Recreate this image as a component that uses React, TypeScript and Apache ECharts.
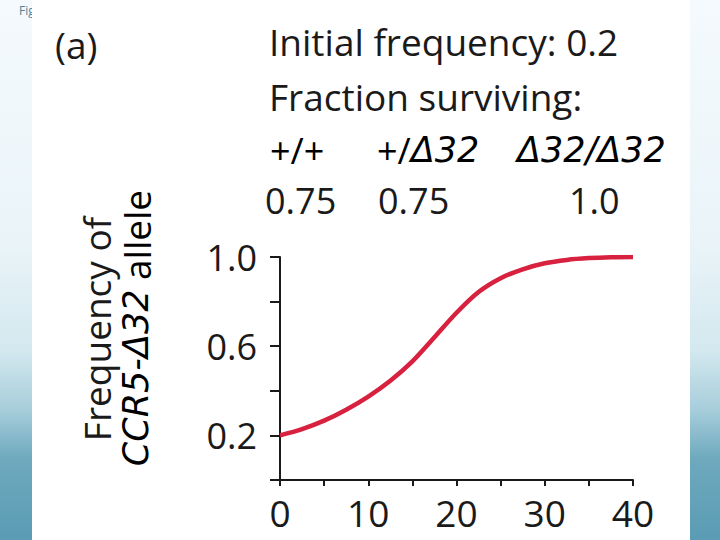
import React, { useEffect, useRef } from "react";
import * as echarts from "echarts";

const generations = [0, 2.5, 5, 7.5, 10, 12.5, 15, 17.5, 20, 22.5, 25, 27.5, 30, 32.5, 35, 37.5, 40];
const frequency = [0.2, 0.228, 0.266, 0.315, 0.374, 0.445, 0.532, 0.64, 0.75, 0.843, 0.905, 0.945, 0.972, 0.987, 0.995, 0.999, 1.0];
const yLabelValues = [2, 6, 10]; // tenths shown
const xLabelEvery = 10;
const genotypes = ["+/+", "+/Δ32", "Δ32/Δ32"];
const survival = ["0.75", "0.75", "1.0"];

const FONT = "'Open Sans', 'Noto Sans', sans-serif";
const IFONT = "'DejaVu Sans', 'Open Sans', sans-serif";
const INK = "#1a1a1a";

export default function App() {
  const ref = useRef<HTMLDivElement>(null);
  useEffect(() => {
    const chart = echarts.init(ref.current!, null, { renderer: "svg" });
    const rich = {
      n: { fontSize: 36, fontFamily: FONT, color: INK, lineHeight: 34 },
      i: { fontSize: 35, fontFamily: IFONT, color: INK, fontStyle: "italic", lineHeight: 34 },
    };
    const richTitle = {
      n: { fontSize: 37, fontFamily: FONT, color: INK },
      i: { fontSize: 35, fontFamily: IFONT, color: INK, fontStyle: "italic" },
    };
    chart.setOption({
      animation: false,
      backgroundColor: "transparent",
      grid: { left: 280, right: 87, top: 257, bottom: 60, containLabel: false },
      xAxis: {
        type: "value",
        min: 0,
        max: 40,
        interval: 5,
        axisLine: { show: true, lineStyle: { color: INK, width: 2 } },
        axisTick: { show: true, length: 6, lineStyle: { color: INK, width: 2 } },
        axisLabel: {
          formatter: (v: number) => (v % xLabelEvery === 0 ? String(v) : ""),
          fontSize: 37,
          fontFamily: FONT,
          color: INK,
          margin: 14,
        },
        splitLine: { show: false },
      },
      yAxis: {
        type: "value",
        min: 0,
        max: 1,
        interval: 0.2,
        axisLine: { show: true, lineStyle: { color: INK, width: 2 } },
        axisTick: { show: true, length: 10, lineStyle: { color: INK, width: 2 } },
        axisLabel: {
          formatter: (v: number) => (yLabelValues.includes(Math.round(v * 10)) ? v.toFixed(1) : ""),
          fontSize: 36,
          fontFamily: FONT,
          color: INK,
          margin: 23,
        },
        splitLine: { show: false },
      },
      series: [
        {
          type: "line",
          data: generations.map((g, k) => [g, frequency[k]]),
          smooth: 0.3,
          showSymbol: false,
          lineStyle: { color: "#d7213f", width: 4.5 },
          z: 5,
        },
      ],
      graphic: [
        {
          type: "text",
          z: -20,
          left: 19,
          top: 4,
          style: { text: "Fig", fontSize: 12, fontFamily: FONT, fill: "#4f8398" },
        },
        {
          type: "rect",
          z: -10,
          shape: { x: 32, y: 0, width: 658, height: 540 },
          style: { fill: "#ffffff" },
        },
        {
          type: "text",
          x: 55,
          y: 44,
          style: { text: "(a)", fontSize: 37, fontFamily: FONT, fill: INK, verticalAlign: "middle" },
        },
        {
          type: "text",
          x: 269,
          y: 41,
          style: { text: "Initial frequency: 0.2", fontSize: 37, fontFamily: FONT, fill: INK, verticalAlign: "middle" },
        },
        {
          type: "text",
          x: 269,
          y: 96,
          style: { text: "Fraction surviving:", fontSize: 37, fontFamily: FONT, fill: INK, verticalAlign: "middle" },
        },
        {
          type: "text",
          x: 270,
          y: 150,
          style: { text: "{n|" + genotypes[0] + "}", rich, verticalAlign: "middle" },
        },
        {
          type: "text",
          x: 377,
          y: 150,
          style: { text: "{n|+/}{i|" + genotypes[1].slice(2) + "}", rich, verticalAlign: "middle" },
        },
        {
          type: "text",
          x: 517,
          y: 150,
          style: { text: "{i|" + genotypes[2] + "}", rich, verticalAlign: "middle" },
        },
        {
          type: "text",
          x: 265,
          y: 200,
          style: { text: survival[0], fontSize: 36, fontFamily: FONT, fill: INK, verticalAlign: "middle" },
        },
        {
          type: "text",
          x: 378,
          y: 200,
          style: { text: survival[1], fontSize: 36, fontFamily: FONT, fill: INK, verticalAlign: "middle" },
        },
        {
          type: "text",
          x: 569,
          y: 200,
          style: { text: survival[2], fontSize: 36, fontFamily: FONT, fill: INK, verticalAlign: "middle" },
        },
        {
          type: "text",
          x: 96,
          y: 329,
          rotation: Math.PI / 2,
          style: { text: "Frequency of", fontSize: 37, fontFamily: FONT, fill: INK, align: "center", verticalAlign: "middle" },
        },
        {
          type: "text",
          x: 136,
          y: 328,
          rotation: Math.PI / 2,
          style: { text: "{i|CCR5-Δ32}{n| allele}", rich: richTitle, align: "center", verticalAlign: "middle" },
        },
      ],
    });
    return () => chart.dispose();
  }, []);
  return (
    <div
      ref={ref}
      style={{
        position: "fixed",
        left: 0,
        top: 0,
        width: 720,
        height: 540,
        background:
          "linear-gradient(to bottom, #f4fafd 0%, #eaf4f8 45%, #d3e8ef 65%, #a6cdda 76%, #6ea9be 85%, #5a9cb4 100%)",
      }}
    />
  );
}
